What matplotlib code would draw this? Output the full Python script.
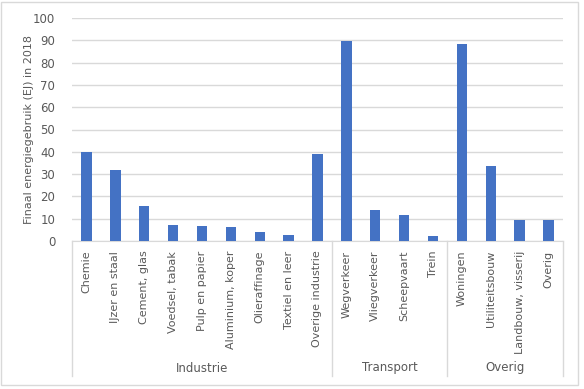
import numpy as np
import matplotlib.pyplot as plt
from matplotlib.patches import Rectangle

# data
categories = ["Chemie", "IJzer en staal", "Cement, glas", "Voedsel, tabak",
              "Pulp en papier", "Aluminium, koper", "Olieraffinage",
              "Textiel en leer", "Overige industrie",
              "Wegverkeer", "Vliegverkeer", "Scheepvaart", "Trein",
              "Woningen", "Utiliteitsbouw", "Landbouw, visserij", "Overig"]
values = [39.9, 31.8, 15.7, 7.2, 6.7, 6.3, 4.0, 2.7, 39.0,
          89.7, 13.9, 11.7, 2.2,
          88.3, 33.6, 9.4, 9.4]
groups = ["Industrie", "Transport", "Overig"]
group_sizes = [9, 4, 4]
yticks = list(range(0, 101, 10))

txt = "#595959"
grid = "#D9D9D9"
blue = "#4472C4"
plt.rcParams['font.family'] = ['DejaVu Sans']

W, H = 584, 389
fig = plt.figure(figsize=(W / 100, H / 100), dpi=100)
fig.patches.append(Rectangle((1 / W, 4 / H), 577 / W, 383 / H, transform=fig.transFigure,
                             fill=False, edgecolor=grid, lw=1))

left, right, top, bottom = 72, 563, 18, 241
ax = fig.add_axes([left / W, 1 - bottom / H, (right - left) / W, (bottom - top) / H])

x = np.arange(len(categories))
ax.bar(x, values, width=0.36, color=blue, zorder=3)

ax.set_xlim(-0.5, len(categories) - 0.5)
ax.set_ylim(0, 100)
ax.set_yticks(yticks)
ax.yaxis.grid(True, color=grid, lw=1, zorder=0)
for s in ["top", "right", "left"]:
    ax.spines[s].set_visible(False)
ax.spines["bottom"].set_color(grid)
ax.tick_params(axis="y", length=0, labelsize=8.5, labelcolor=txt, pad=12)
ax.set_xticks(x)
ax.set_xticklabels(categories, rotation=90, fontsize=8, color=txt)
ax.tick_params(axis="x", length=0, pad=7)
ax.set_ylabel("Finaal energiegebruik (EJ) in 2018", fontsize=8, color=txt)
ax.yaxis.set_label_coords((34 - left) / (right - left), 0.5)

# group separators and labels below the category labels
trans = ax.get_xaxis_transform()
bounds = np.concatenate([[0], np.cumsum(group_sizes)]) - 0.5
low = -(376 - bottom) / (bottom - top)
for b in bounds:
    ax.plot([b, b], [0, low], color=grid, lw=1, transform=trans, clip_on=False)
for g, a, b in zip(groups, bounds[:-1], bounds[1:]):
    ax.text((a + b) / 2, -(368 - bottom) / (bottom - top), g, transform=trans,
            ha="center", va="center", fontsize=8.5, color=txt)

fig.savefig("out.png", dpi=100)
